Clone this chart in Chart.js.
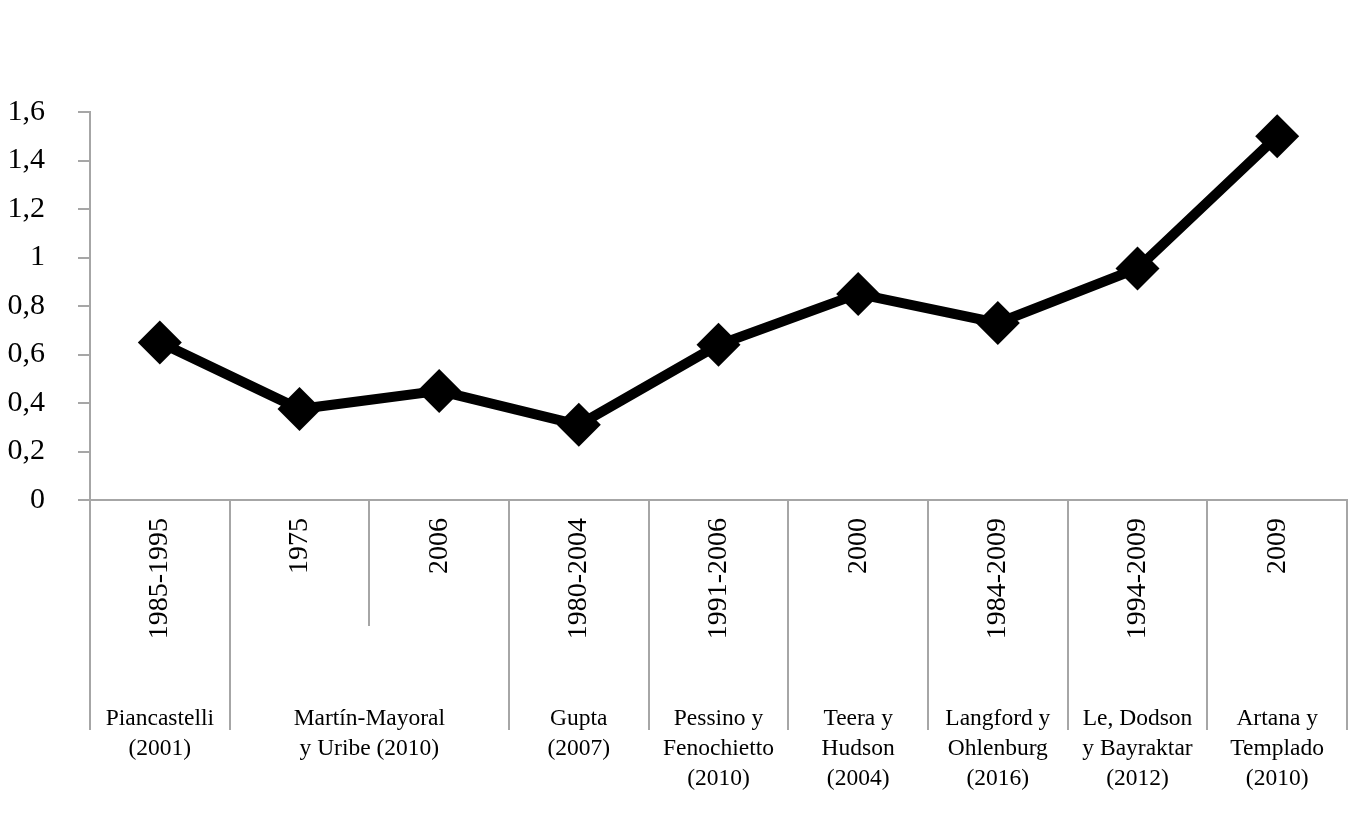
<!DOCTYPE html>
<html>
<head>
<meta charset="utf-8">
<script src="https://cdn.jsdelivr.net/npm/chart.js@4"></script>
<style>
  html, body { margin: 0; padding: 0; background: #fff; }
</style>
</head>
<body>
<canvas id="chart" width="1358" height="824"></canvas>
<script>
// Données du graphique
const periodes = ["1985-1995", "1975", "2006", "1980-2004", "1991-2006", "2000", "1984-2009", "1994-2009", "2009"];
const valeurs = [0.65, 0.375, 0.45, 0.31, 0.64, 0.85, 0.73, 0.955, 1.5];
const auteurs = [
    ["Piancastelli", "(2001)"],
    ["Martín-Mayoral", "y Uribe (2010)"],
    ["Gupta", "(2007)"],
    ["Pessino y", "Fenochietto", "(2010)"],
    ["Teera y", "Hudson", "(2004)"],
    ["Langford y", "Ohlenburg", "(2016)"],
    ["Le, Dodson", "y Bayraktar", "(2012)"],
    ["Artana y", "Templado", "(2010)"]
];
const nbPeriodes = [1, 2, 1, 1, 1, 1, 1, 1];
const yTicks = [0, 0.2, 0.4, 0.6, 0.8, 1, 1.2, 1.4, 1.6];

const gris = '#a6a6a6';
const police = '"Liberation Serif", "Times New Roman", serif';

// Plugin pour les étiquettes à deux niveaux de l'axe X
const axeMultiNiveaux = {
    id: 'axeMultiNiveaux',
    afterDraw(chart) {
        const c = chart.ctx;
        const x = chart.scales.x;
        const bas = chart.chartArea.bottom;
        const centre = (i) => x.getPixelForValue(i);
        const bord = (i) => {
            if (i <= 0) return x.left;
            if (i >= periodes.length) return x.right;
            return (centre(i - 1) + centre(i)) / 2;
        };

        c.save();
        c.strokeStyle = gris;
        c.lineWidth = 2;

        // Séparateurs
        let debut = 0;
        const limites = [0];
        nbPeriodes.forEach((n) => { debut += n; limites.push(debut); });
        for (let i = 0; i <= periodes.length; i++) {
            const px = Math.round(bord(i));
            const long = limites.includes(i) ? 230 : 126;
            c.beginPath();
            c.moveTo(px, bas);
            c.lineTo(px, bas + long);
            c.stroke();
        }

        // Périodes (texte vertical)
        c.fillStyle = '#000';
        c.font = '28px ' + police;
        c.textAlign = 'right';
        c.textBaseline = 'middle';
        periodes.forEach((p, i) => {
            c.save();
            c.translate(centre(i), bas + 18);
            c.rotate(-Math.PI / 2);
            c.fillText(p, 0, 0);
            c.restore();
        });

        // Auteurs
        c.font = '23.5px ' + police;
        c.textAlign = 'center';
        c.textBaseline = 'middle';
        auteurs.forEach((lignes, g) => {
            const gx = (bord(limites[g]) + bord(limites[g + 1])) / 2;
            lignes.forEach((l, k) => {
                c.fillText(l, gx, bas + 219 + k * 30);
            });
        });
        c.restore();
    }
};

const ctx = document.getElementById("chart");

const config = {
    type: 'line',
    data: {
        labels: periodes,
        datasets: [{
            data: valeurs,
            borderColor: '#000',
            backgroundColor: '#000',
            borderWidth: 10,
            pointStyle: 'rectRot',
            pointRadius: 22,
            pointBackgroundColor: '#000',
            pointBorderWidth: 0,
            tension: 0,
            clip: false
        }]
    },
    options: {
        responsive: false,
        animation: false,
        events: [],
        layout: { autoPadding: false, padding: { left: 0, top: 112, right: 11, bottom: 0 } },
        plugins: {
            legend: { display: false },
            tooltip: { enabled: false }
        },
        scales: {
            x: {
                type: 'category',
                offset: true,
                grid: { display: false },
                border: { display: true, color: gris, width: 2 },
                ticks: { display: false },
                afterFit: (s) => { s.height = 324; }
            },
            y: {
                min: 0,
                max: 1.6,
                afterBuildTicks: (s) => { s.ticks = yTicks.map((v) => ({ value: v })); },
                grid: {
                    display: true,
                    drawOnChartArea: false,
                    drawTicks: true,
                    tickLength: 12,
                    color: gris,
                    lineWidth: 2
                },
                border: { display: true, color: gris, width: 2 },
                ticks: {
                    padding: 33,
                    color: '#000',
                    font: { family: police, size: 30 },
                    callback: (v) => String(Number(v.toFixed(1))).replace('.', ',')
                },
                afterFit: (s) => { s.width = 90; }
            }
        }
    },
    plugins: [axeMultiNiveaux]
};

var chart = new Chart(ctx, config);
</script>
</body>
</html>
